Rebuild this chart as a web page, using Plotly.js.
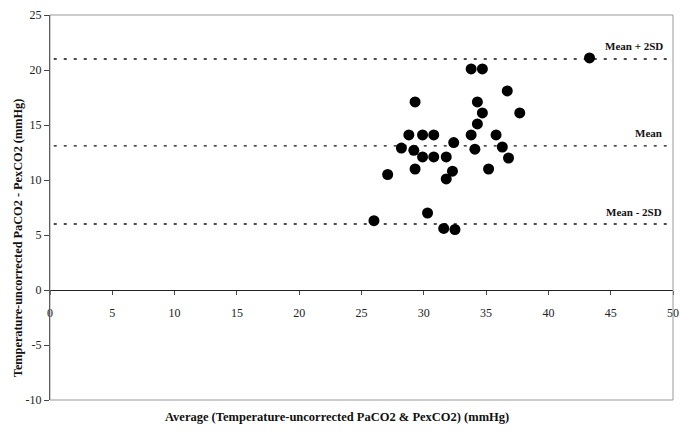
<!DOCTYPE html>
<html><head><meta charset="utf-8">
<script src="https://cdn.plot.ly/plotly-3.0.1.min.js"></script>
<style>html,body{margin:0;padding:0;background:#fff}</style>
</head><body>
<div id="chart" style="width:680px;height:435px"></div>
<script>
var avgValues = [26.0,27.1,28.2,28.8,29.2,29.3,29.3,29.9,29.9,30.3,30.8,30.8,31.6,31.8,31.8,32.3,32.4,32.5,33.8,33.8,34.1,34.3,34.3,34.7,34.7,35.2,35.8,36.3,36.7,36.8,37.7,43.3];
var diffValues = [6.3,10.5,12.9,14.1,12.7,17.1,11.0,14.1,12.1,7.0,14.1,12.1,5.6,12.1,10.1,10.8,13.4,5.5,14.1,20.1,12.8,17.1,15.1,16.1,20.1,11.0,14.1,13.0,18.1,12.0,16.1,21.1];
var refNames = ["Mean + 2SD","Mean","Mean - 2SD"];
var refValues = [21.0, 13.1, 6.0];
var refLabelY = [22.2, 14.3, 7.1];
var xTicks = [0,5,10,15,20,25,30,35,40,45,50];
var yTicks = [-10,-5,0,5,10,15,20,25];

var serif = "Liberation Serif, Times New Roman, serif";
var traces = [];
refValues.forEach(function(v){
  traces.push({x:[0.3,49.6], y:[v,v], mode:'lines', type:'scatter',
    line:{color:'#111', width:1.3, dash:'3px,7px'}, hoverinfo:'skip', showlegend:false});
});
traces.push({x:avgValues, y:diffValues, mode:'markers', type:'scatter',
  marker:{color:'#000', size:11}, showlegend:false});

var ann = refNames.map(function(n,i){
  return {x: i===1 ? 48 : 46.9, y: refLabelY[i], xref:'x', yref:'y', text:'<b>'+n+'</b>',
    showarrow:false, font:{family:serif, size:11, color:'#111'}};
});
ann.push({x:0.46, y:-0.044, xref:'paper', yref:'paper', yanchor:'middle',
  text:'<b>Average (Temperature-uncorrected PaCO2 &amp; PexCO2) (mmHg)</b>',
  showarrow:false, font:{family:serif, size:12.5, color:'#111'}});
ann.push({x:-0.066, y:0.42, xref:'paper', yref:'paper', textangle:-90,
  text:'<b>Temperature-uncorrected PaCO2 - PexCO2 (mmHg)</b>',
  showarrow:false, font:{family:serif, size:12.3, color:'#111'}});

var layout = {
  width:680, height:435,
  margin:{l:50, r:7, t:15, b:35},
  paper_bgcolor:'#fff', plot_bgcolor:'#fff',
  showlegend:false,
  xaxis:{range:[0,50], tickvals:xTicks, ticktext:xTicks.map(String), anchor:'free', position:10/35,
    showgrid:false, zeroline:false, showline:true, linecolor:'#222', linewidth:1,
    ticks:'outside', ticklen:4, tickcolor:'#444', ticklabelstandoff:8, ticklabeloverflow:'allow',
    tickfont:{family:serif, size:12, color:'#222'}},
  yaxis:{range:[-10,25], tickvals:yTicks, ticktext:yTicks.map(String),
    showgrid:false, zeroline:false, showline:true, linecolor:'#222', linewidth:1,
    ticks:'outside', ticklen:5, tickcolor:'#444',
    tickfont:{family:serif, size:12, color:'#222'}},
  shapes:[{type:'rect', xref:'paper', yref:'paper', x0:0, x1:1, y0:0, y1:1,
    line:{color:'#999', width:1}}],
  annotations: ann
};
Plotly.newPlot('chart', traces, layout, {displayModeBar:false, staticPlot:true});
</script>
</body></html>
